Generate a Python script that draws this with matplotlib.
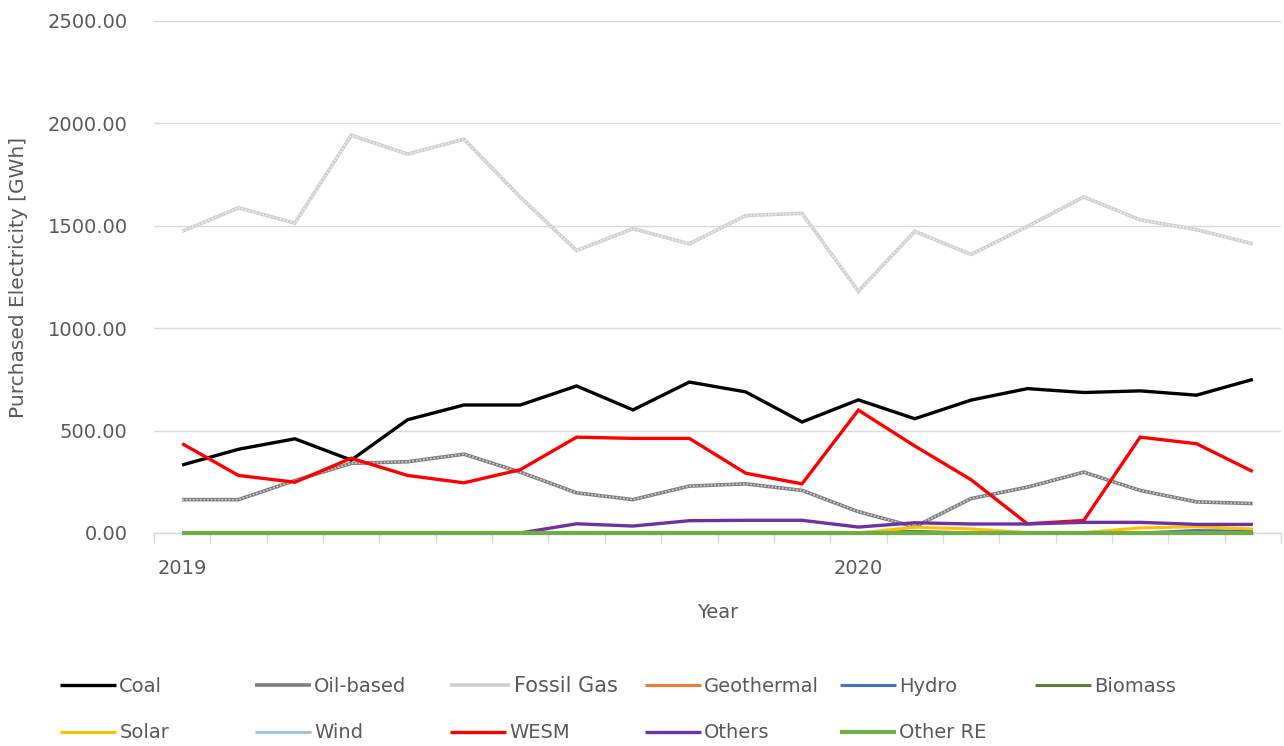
import matplotlib
matplotlib.use("Agg")
import matplotlib.pyplot as plt
import numpy as np

# ---------------- data ----------------
months = ["Jan 2019", "Feb 2019", "Mar 2019", "Apr 2019", "May 2019", "Jun 2019",
          "Jul 2019", "Aug 2019", "Sep 2019", "Oct 2019", "Nov 2019", "Dec 2019",
          "Jan 2020", "Feb 2020", "Mar 2020", "Apr 2020", "May 2020", "Jun 2020",
          "Jul 2020", "Aug 2020"]
year_ticks = ["Jan 2019", "Jan 2020"]
year_tick_labels = ["2019", "2020"]

coal = [332, 409, 460, 356, 553, 625, 625, 718, 601, 737,
        689, 542, 650, 558, 649, 705, 686, 694, 673, 750]
oil_based = [163, 163, 256, 340, 348, 385, 297, 196, 163, 229,
             240, 208, 104, 30, 168, 224, 297, 208, 152, 144]
fossil_gas = [1473, 1588, 1513, 1942, 1850, 1923, 1640, 1379, 1486, 1412,
              1550, 1561, 1180, 1473, 1360, 1497, 1641, 1529, 1481, 1412]
geothermal = [0, 0, 0, 0, 0, 0, 0, 0, 0, 0, 0, 0, 0, 0, 0, 0, 0, 0, 0, 0]
hydro = [0, 0, 0, 0, 0, 0, 0, 0, 0, 0, 0, 0, 0, 0, 0, 0, 0, 0, 12, 8]
biomass = [0, 0, 0, 0, 0, 0, 0, 0, 0, 0, 0, 0, 0, 8, 0, 0, 0, 0, 0, 0]
solar = [0, 0, 0, 0, 0, 0, 0, 0, 0, 0, 0, 0, 0, 28, 20, 2, 2, 25, 30, 20]
wind = [0, 0, 0, 0, 0, 0, 0, 0, 0, 0, 0, 0, 0, 0, 0, 0, 0, 0, 0, 0]
wesm = [436, 281, 248, 365, 281, 245, 309, 468, 462, 462,
        292, 240, 600, 425, 260, 45, 61, 468, 436, 300]
others = [0, 0, 0, 0, 0, 0, 0, 45, 34, 60, 62, 62, 29, 50, 44, 44, 52, 52, 42, 42]
other_re = [0, 0, 0, 0, 0, 0, 0, 0, 0, 0, 0, 0, 0, 0, 0, 0, 0, 0, 0, 0]

series_names = ["Coal", "Oil-based", "Fossil Gas", "Geothermal", "Hydro", "Biomass",
                "Solar", "Wind", "WESM", "Others", "Other RE"]
series_values = [coal, oil_based, fossil_gas, geothermal, hydro, biomass,
                 solar, wind, wesm, others, other_re]
series_colors = ["#000000", "#7f7f7f", "#cfcfcf", "#ed7d31", "#4472c4", "#548235",
                 "#ffc000", "#9dc3e6", "#ff0000", "#7030a0", "#70ad47"]
series_widths = [2.4, 2.6, 2.6, 2.2, 2.2, 2.2, 2.2, 2.2, 2.4, 2.4, 3.0]
texture_colors = {"Oil-based": "#d4d4d4", "Fossil Gas": "#efefef"}

TXT = "#595959"
plt.rcParams["font.family"] = ["DejaVu Sans"]

fig = plt.figure(figsize=(12.84, 7.46), dpi=100)
ax = fig.add_axes([154 / 1284, 1 - 533 / 746, (1281 - 154) / 1284, (533 - 21) / 746])

x = np.arange(len(months))
handles = []
for i, (name, vals, col, lw) in enumerate(zip(series_names, series_values,
                                               series_colors, series_widths)):
    ln, = ax.plot(x, vals, color=col, lw=lw, label=name, zorder=3 + i,
                  solid_joinstyle="miter", solid_capstyle="butt", clip_on=False)
    if name in texture_colors:
        ax.plot(x, vals, color=texture_colors[name], lw=lw * 0.45,
                linestyle=(0, (1.0, 1.2)), zorder=3 + i, label="_nolegend_",
                clip_on=False)
    handles.append(ln)

ax.set_xlim(-0.5, len(months) - 0.5)
ax.set_ylim(0, 2500)
ax.set_yticks([0, 500, 1000, 1500, 2000, 2500])
ax.set_yticklabels([f"{v:.2f}" for v in [0, 500, 1000, 1500, 2000, 2500]])
ax.grid(axis="y", color="#d9d9d9", lw=1.0, zorder=0)
ax.set_axisbelow(True)

tick_pos = [months.index(m) for m in year_ticks]
ax.set_xticks(tick_pos)
ax.set_xticklabels(year_tick_labels)
ax.set_xticks(np.arange(-0.5, len(months), 1.0), minor=True)
ax.tick_params(axis="x", which="major", length=0, pad=19, labelsize=14, labelcolor=TXT)
ax.tick_params(axis="x", which="minor", length=7, width=1, color="#d9d9d9")
ax.tick_params(axis="y", length=0, pad=19, labelsize=14, labelcolor=TXT)

for s in ["top", "right", "left"]:
    ax.spines[s].set_visible(False)
ax.spines["bottom"].set_color("#d9d9d9")
ax.spines["bottom"].set_linewidth(1.0)
ax.spines["bottom"].set_zorder(1)

ax.set_xlabel("Year", fontsize=14, color=TXT, labelpad=18)
ax.set_ylabel("Purchased Electricity [GWh]", fontsize=14.5, color=TXT, labelpad=14)

# legend: Excel-like grid, 6 columns, 2 rows
ncols = 6
for i, (h, name) in enumerate(zip(handles, series_names)):
    row, colm = divmod(i, ncols)
    xf = (60 + 195 * colm) / 1284
    yf = 1 - (686 + 47 * row) / 746
    fs = 15 if name == "Fossil Gas" else 14
    leg = fig.legend([h], [name], loc="center left", bbox_to_anchor=(xf, yf),
                     frameon=False, borderpad=0, borderaxespad=0,
                     handlelength=2.9, handletextpad=0.15, fontsize=fs)
    for t in leg.get_texts():
        t.set_color(TXT)

fig.savefig("out.png", dpi=100)
